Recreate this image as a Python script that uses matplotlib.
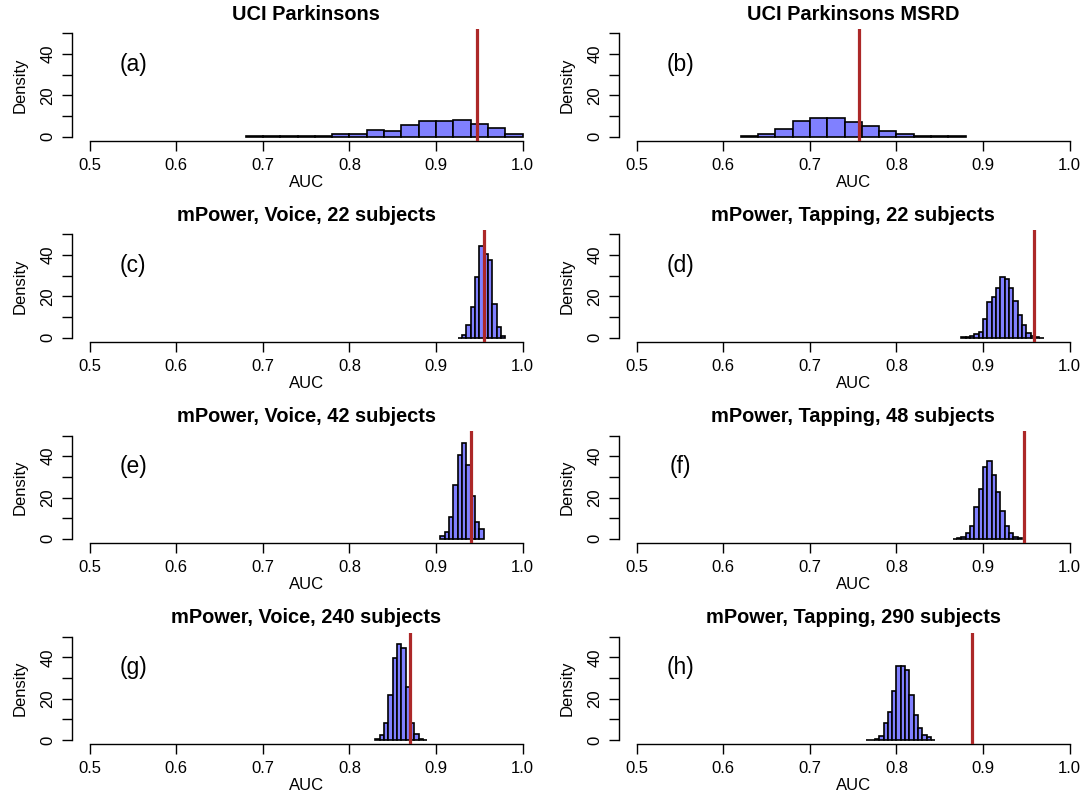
import numpy as np
import matplotlib
matplotlib.use("Agg")
import matplotlib.pyplot as plt

plt.rcParams['font.family'] = ['Liberation Sans', 'DejaVu Sans']

# ---------------- data (histogram densities, bin starts, bin widths, observed AUC) ----------------
titles = ["UCI Parkinsons", "UCI Parkinsons MSRD",
          "mPower, Voice, 22 subjects", "mPower, Tapping, 22 subjects",
          "mPower, Voice, 42 subjects", "mPower, Tapping, 48 subjects",
          "mPower, Voice, 240 subjects", "mPower, Tapping, 290 subjects"]
panel_tags = ["(a)", "(b)", "(c)", "(d)", "(e)", "(f)", "(g)", "(h)"]

bin_start = [0.68, 0.62, 0.925, 0.875, 0.905, 0.865, 0.830, 0.765]
bin_width = [0.02, 0.02, 0.005, 0.005, 0.005, 0.005, 0.005, 0.005]

dens_a = [0.15, 0.2, 0.3, 0.2, 0.5, 1.1, 1.3, 3.4, 2.7, 5.6, 7.7, 7.5, 8.3, 6.2, 4.0, 1.1]
dens_b = [0.5, 1.4, 3.8, 7.5, 9.0, 8.9, 7.2, 5.3, 2.9, 1.4, 0.5, 0.3, 0.2]
dens_c = [0.1, 1.3, 6.4, 15.0, 29.3, 44.6, 40.5, 37.8, 16.5, 5.3, 1.0]
dens_d = [0.2, 0.3, 0.8, 1.8, 2.7, 9.0, 17.3, 19.6, 24.0, 29.5, 28.2, 24.2, 17.9, 11.1,
          6.4, 2.4, 1.0, 0.2, 0.1]
dens_e = [1.6, 3.4, 10.6, 26.1, 40.5, 46.5, 35.7, 20.7, 8.3, 4.8]
dens_f = [0.1, 0.2, 1.0, 2.6, 6.4, 15.2, 24.2, 34.6, 37.8, 30.9, 22.8, 13.3, 6.4, 2.6, 0.8, 0.2]
dens_g = [0.3, 2.4, 8.3, 22.0, 39.7, 46.5, 44.4, 25.6, 8.3, 3.0, 0.5, 0.2]
dens_h = [0.1, 0.2, 0.3, 2.1, 8.0, 13.3, 23.9, 35.7, 35.6, 33.7, 22.0, 12.0, 5.6, 2.4, 1.3, 0.2]
densities = [dens_a, dens_b, dens_c, dens_d, dens_e, dens_f, dens_g, dens_h]

observed_auc = [0.947, 0.757, 0.955, 0.959, 0.940, 0.947, 0.870, 0.887]

x_ticks = [0.5, 0.6, 0.7, 0.8, 0.9, 1.0]
x_ticklabels = ["0.5", "0.6", "0.7", "0.8", "0.9", "1.0"]
y_ticks = [0, 10, 20, 30, 40, 50]
y_ticklabels = ["0", "", "20", "", "40", ""]

# ---------------- layout ----------------
W, H = 1085, 794
fig = plt.figure(figsize=(W / 100, H / 100), dpi=100)

col_left_px = [72.4, 619.4]
ax_w_px = 467.6
row_top_px = 29.2
row_step_px = 201.1
ax_h_px = 111.6

bar_color = "#8080FF"
line_color = "#AC2828"

for i in range(8):
    r, c = divmod(i, 2)
    left = col_left_px[c] / W
    top = (row_top_px + r * row_step_px)
    bottom = 1 - (top + ax_h_px) / H
    ax = fig.add_axes([left, bottom, ax_w_px / W, ax_h_px / H])

    d = np.array(densities[i])
    edges = bin_start[i] + bin_width[i] * np.arange(len(d))
    ax.bar(edges, d, width=bin_width[i], align='edge', color=bar_color,
           edgecolor='black', linewidth=1.2, zorder=2)
    ax.axvline(observed_auc[i], color=line_color, linewidth=2.3, zorder=3)

    ax.set_xlim(0.48, 1.02)
    ax.set_ylim(-2, 52)

    for s in ['top', 'right']:
        ax.spines[s].set_visible(False)
    ax.spines['bottom'].set_bounds(0.5, 1.0)
    ax.spines['left'].set_bounds(0, 50)
    ax.spines['bottom'].set_linewidth(1.0)
    ax.spines['left'].set_linewidth(1.0)

    ax.set_xticks(x_ticks)
    ax.set_xticklabels(x_ticklabels)
    ax.set_yticks(y_ticks)
    ax.set_yticklabels(y_ticklabels, rotation=90, va='center')
    ax.tick_params(axis='both', length=7.2, width=1.0, labelsize=12, direction='out')
    ax.tick_params(axis='x', pad=5)
    ax.tick_params(axis='y', pad=5)

    ax.set_xlabel("AUC", fontsize=12)
    ax.xaxis.set_label_coords(0.5, -0.37)
    ax.xaxis.label.set_va('center')
    ax.set_ylabel("Density", fontsize=12)
    ax.yaxis.set_label_coords(-(col_left_px[0] - 20) / ax_w_px, 0.5)
    ax.yaxis.label.set_va('center')

    ax.text(0.5, 1.136, titles[i], transform=ax.transAxes, ha='center', va='center',
            fontsize=14.4, fontweight='bold')
    ax.text(0.55, 35, panel_tags[i], ha='center', va='center', fontsize=16.5)

fig.savefig("out.png", dpi=100)
